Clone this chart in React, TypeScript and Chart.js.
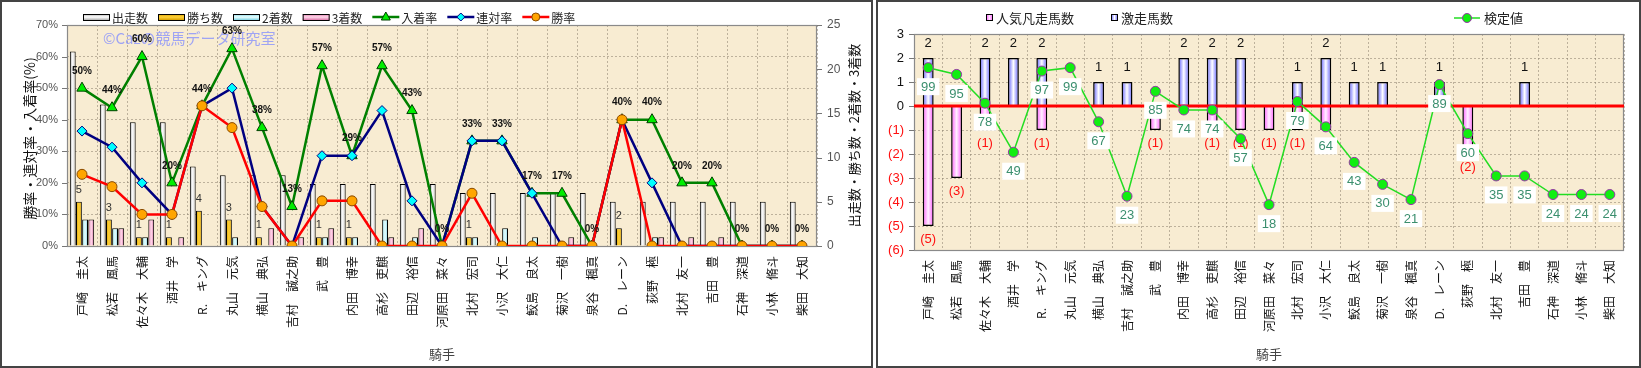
import React, { useEffect, useRef } from 'react';
import { Chart, registerables } from 'chart.js';
Chart.register(...registerables);

// ---------------- data ----------------
const jockeys = [
  '戸崎　圭太', '松若　風馬', '佐々木　大輔', '酒井　学', 'R.　キング', '丸山　元気', '横山　典弘',
  '吉村　誠之助', '武　豊', '内田　博幸', '高杉　吏麒', '田辺　裕信', '河原田　菜々', '北村　宏司',
  '小沢　大仁', '鮫島　良太', '菊沢　一樹', '泉谷　楓真', 'D.　レーン', '荻野　極', '北村　友一',
  '吉田　豊', '石神　深道', '小林　脩斗', '柴田　大知',
];
const starts = [22, 16, 14, 14, 9, 8, 8, 8, 7, 7, 7, 7, 7, 6, 6, 6, 6, 6, 5, 5, 5, 5, 5, 5, 5];
const wins = [5, 3, 1, 1, 4, 3, 1, 0, 1, 1, 0, 0, 0, 1, 0, 0, 0, 0, 2, 0, 0, 0, 0, 0, 0];
const seconds = [3, 2, 1, 0, 0, 1, 0, 0, 1, 1, 3, 1, 0, 1, 2, 1, 0, 0, 0, 1, 0, 0, 0, 0, 0];
const thirds = [3, 2, 3, 1, 0, 0, 2, 1, 2, 0, 1, 2, 0, 0, 0, 0, 1, 0, 0, 1, 1, 1, 0, 0, 0];
const placeRate = [50, 43.8, 60, 20, 44.4, 62.5, 37.5, 12.5, 57.1, 28.6, 57.1, 42.9, 0, 33.3, 33.3, 16.7, 16.7, 0, 40, 40, 20, 20, 0, 0, 0];
const quinellaRate = [36.4, 31.3, 20, 10, 44.4, 50, 12.5, 0, 28.6, 28.6, 42.9, 14.3, 0, 33.3, 33.3, 16.7, 0, 0, 40, 20, 0, 0, 0, 0, 0];
const winRate = [22.7, 18.8, 10, 10, 44.4, 37.5, 12.5, 0, 14.3, 14.3, 0, 0, 0, 16.7, 0, 0, 0, 0, 40, 0, 0, 0, 0, 0, 0];

const surgeCount = [2, 0, 2, 2, 2, 0, 1, 1, 0, 2, 2, 2, 0, 1, 2, 1, 1, 0, 1, 0, 0, 1, 0, 0, 0];
const flopCount = [-5, -3, -1, 0, -1, 0, 0, 0, -1, 0, -1, -1, -1, -1, -1, 0, 0, 0, 0, -2, 0, 0, 0, 0, 0];
const testValue = [99, 95, 78, 49, 97, 99, 67, 23, 85, 74, 74, 57, 18, 79, 64, 43, 30, 21, 89, 60, 35, 35, 24, 24, 24];

const leftTitle = '勝率・連対率・入着率(%)';
const rightAxisTitle = '出走数・勝ち数・2着数・3着数';
const xTitle = '騎手';
const watermark = '©Cazの競馬データ研究室';

// ---------------- styles ----------------
const JP = '"Noto Sans CJK JP", sans-serif';
const LAT = '"Liberation Sans", "Noto Sans CJK JP", sans-serif';
const PAPER = '#f8ecd2';
const GRID = 'rgba(140,130,110,0.55)';

const L_CAT = 0.82;
const L_BAR = 0.95;
const R_CAT = 0.8;
const R_BAR = 0.48;

function barGrad(ctx: any, j: number, nBars: number, catPct: number, barPct: number, edge: string, center: string) {
  const chart = ctx.chart;
  const xs = chart.scales && chart.scales.x;
  if (!xs || ctx.type !== 'data' || !xs.width) return edge;
  const n = chart.data.labels.length;
  const cw = xs.width / n;
  const group = cw * catPct;
  const slot = group / nBars;
  const w = slot * barPct;
  const cx = xs.getPixelForValue(ctx.dataIndex) - group / 2 + (j + 0.5) * slot;
  const g = chart.ctx.createLinearGradient(cx - w / 2, 0, cx + w / 2, 0);
  g.addColorStop(0, edge);
  g.addColorStop(0.5, center);
  g.addColorStop(1, edge);
  return g;
}

function drawMarker(c: CanvasRenderingContext2D, kind: string, x: number, y: number, r: number, fill: string, stroke: string) {
  c.save();
  c.beginPath();
  if (kind === 'triangle') {
    c.moveTo(x, y - r);
    c.lineTo(x + r * 0.9, y + r * 0.6);
    c.lineTo(x - r * 0.9, y + r * 0.6);
    c.closePath();
  } else if (kind === 'diamond') {
    c.moveTo(x, y - r);
    c.lineTo(x + r, y);
    c.lineTo(x, y + r);
    c.lineTo(x - r, y);
    c.closePath();
  } else {
    c.arc(x, y, r, 0, Math.PI * 2);
  }
  c.fillStyle = fill;
  c.fill();
  c.lineWidth = 1;
  c.strokeStyle = stroke;
  c.stroke();
  c.restore();
}

function fillPaper(chart: any) {
  const { ctx, chartArea: a } = chart;
  ctx.save();
  ctx.fillStyle = '#ffffff';
  ctx.fillRect(0, 0, chart.width, chart.height);
  ctx.fillStyle = PAPER;
  ctx.fillRect(a.left, a.top, a.right - a.left, a.bottom - a.top);
  ctx.restore();
}

function plotBorder(chart: any) {
  const { ctx, chartArea: a } = chart;
  ctx.save();
  ctx.strokeStyle = '#8a8a8a';
  ctx.lineWidth = 1.2;
  ctx.strokeRect(a.left + 0.5, a.top + 0.5, a.right - a.left - 1, a.bottom - a.top);
  ctx.restore();
}

function tickMarks(chart: any, id: string, side: 'left' | 'right') {
  const s = chart.scales[id];
  if (!s) return;
  const { ctx, chartArea: a } = chart;
  ctx.save();
  ctx.strokeStyle = '#777';
  ctx.lineWidth = 1;
  s.ticks.forEach((t: any) => {
    const y = Math.round(s.getPixelForValue(t.value)) + 0.5;
    ctx.beginPath();
    if (side === 'left') {
      ctx.moveTo(a.left - 5, y);
      ctx.lineTo(a.left, y);
    } else {
      ctx.moveTo(a.right, y);
      ctx.lineTo(a.right + 5, y);
    }
    ctx.stroke();
  });
  ctx.restore();
}

function rotatedText(c: CanvasRenderingContext2D, text: string, x: number, y: number, font: string, color: string) {
  c.save();
  c.translate(x, y);
  c.rotate(-Math.PI / 2);
  c.font = font;
  c.fillStyle = color;
  c.textAlign = 'center';
  c.textBaseline = 'middle';
  c.fillText(text, 0, 0);
  c.restore();
}

// ---------------- left chart plugin ----------------
const leftPlugin = {
  id: 'leftDecor',
  beforeDraw(chart: any) {
    fillPaper(chart);
  },
  beforeDatasetsDraw(chart: any) {
    const { ctx, chartArea: a } = chart;
    ctx.save();
    ctx.font = `15px ${JP}`;
    ctx.fillStyle = 'rgba(130,140,255,0.75)';
    ctx.textAlign = 'left';
    ctx.textBaseline = 'middle';
    ctx.fillText(watermark, a.left + 36, a.top + 13);
    ctx.restore();
    plotBorder(chart);
    tickMarks(chart, 'y', 'left');
    tickMarks(chart, 'y1', 'right');
  },
  afterDatasetsDraw(chart: any) {
    const { ctx } = chart;
    ctx.save();
    // win counts above yellow bars
    const wMeta = chart.getDatasetMeta(4);
    ctx.font = `11px ${LAT}`;
    ctx.fillStyle = '#333';
    ctx.textAlign = 'center';
    ctx.textBaseline = 'middle';
    wMeta.data.forEach((b: any, i: number) => {
      if (wins[i] > 0) ctx.fillText(String(wins[i]), b.x, b.y - 12);
    });
    // place rate labels
    const pMeta = chart.getDatasetMeta(2);
    ctx.font = `bold 10px ${LAT}`;
    ctx.fillStyle = '#111';
    pMeta.data.forEach((p: any, i: number) => {
      ctx.fillText(`${Math.round(placeRate[i])}%`, p.x, p.y - 17);
    });
    ctx.restore();
  },
  afterDraw(chart: any) {
    const { ctx, chartArea: a } = chart;
    // legend
    const items = [
      { t: 'box', label: '出走数', edge: '#b0b0b0', center: '#ffffff' },
      { t: 'box', label: '勝ち数', edge: '#d9a000', center: '#ffd23a' },
      { t: 'box', label: '2着数', edge: '#80d4e4', center: '#eaffff' },
      { t: 'box', label: '3着数', edge: '#de78ac', center: '#ffd8ea' },
      { t: 'line', label: '入着率', color: '#008000', marker: 'triangle', fill: '#00ee00', stroke: '#004000' },
      { t: 'line', label: '連対率', color: '#000080', marker: 'diamond', fill: '#00ffff', stroke: '#000080' },
      { t: 'line', label: '勝率', color: '#ff0000', marker: 'circle', fill: '#ffa500', stroke: '#8a4a00' },
    ];
    let x = a.left + 16;
    const y = 17;
    ctx.save();
    ctx.font = `12px ${JP}`;
    ctx.textBaseline = 'middle';
    ctx.textAlign = 'left';
    items.forEach((it: any) => {
      if (it.t === 'box') {
        const g = ctx.createLinearGradient(0, y - 3, 0, y + 3);
        g.addColorStop(0, it.edge);
        g.addColorStop(0.5, it.center);
        g.addColorStop(1, it.edge);
        ctx.fillStyle = g;
        ctx.fillRect(x, y - 3, 27, 6);
        ctx.strokeStyle = '#000';
        ctx.lineWidth = 1;
        ctx.strokeRect(x + 0.5, y - 3 + 0.5, 26, 6);
      } else {
        ctx.strokeStyle = it.color;
        ctx.lineWidth = 2.5;
        ctx.beginPath();
        ctx.moveTo(x, y);
        ctx.lineTo(x + 27, y);
        ctx.stroke();
        drawMarker(ctx, it.marker, x + 13.5, y, it.marker === 'triangle' ? 5 : 4, it.fill, it.stroke);
      }
      ctx.fillStyle = '#222';
      ctx.font = `12px ${JP}`;
      ctx.fillText(it.label, x + 29, y + 1);
      const w = ctx.measureText(it.label).width;
      x = x + 29 + w + 10;
    });
    ctx.restore();
    // titles
    rotatedText(ctx, leftTitle, 30, (a.top + a.bottom) / 2 + 3, `14px ${JP}`, '#111');
    rotatedText(ctx, rightAxisTitle, a.right + 37, (a.top + a.bottom) / 2, `13px ${JP}`, '#111');
    ctx.save();
    ctx.font = `13px ${JP}`;
    ctx.fillStyle = '#444';
    ctx.textAlign = 'center';
    ctx.textBaseline = 'middle';
    ctx.fillText(xTitle, (a.left + a.right) / 2, 354);
    ctx.restore();
  },
};

// ---------------- right chart plugin ----------------
const rightPlugin = {
  id: 'rightDecor',
  beforeDraw(chart: any) {
    fillPaper(chart);
  },
  beforeDatasetsDraw(chart: any) {
    plotBorder(chart);
    tickMarks(chart, 'y', 'left');
  },
  beforeDatasetDraw(chart: any, args: any) {
    if (args.index !== 0) return;
    const { ctx, chartArea: a } = chart;
    const ys = chart.scales.y;
    const y0 = ys.getPixelForValue(0);
    ctx.save();
    ctx.strokeStyle = '#ff0000';
    ctx.lineWidth = 3;
    ctx.beginPath();
    ctx.moveTo(a.left, y0);
    ctx.lineTo(a.right, y0);
    ctx.stroke();
    // bar labels
    ctx.textAlign = 'center';
    ctx.textBaseline = 'middle';
    ctx.font = `13px ${LAT}`;
    ctx.fillStyle = '#111';
    chart.getDatasetMeta(1).data.forEach((b: any, i: number) => {
      if (surgeCount[i] > 0) ctx.fillText(String(surgeCount[i]), b.x, b.y - 15);
    });
    ctx.fillStyle = '#ff1010';
    chart.getDatasetMeta(2).data.forEach((b: any, i: number) => {
      if (flopCount[i] < 0) ctx.fillText(`(${-flopCount[i]})`, b.x, b.y + 13);
    });
    ctx.restore();
  },
  afterDatasetsDraw(chart: any) {
    const { ctx } = chart;
    ctx.save();
    ctx.font = `13px ${LAT}`;
    ctx.textAlign = 'center';
    ctx.textBaseline = 'middle';
    chart.getDatasetMeta(0).data.forEach((p: any, i: number) => {
      const t = String(testValue[i]);
      const w = ctx.measureText(t).width + 8;
      const cy = p.y + 19;
      ctx.fillStyle = '#ffffff';
      ctx.fillRect(p.x - w / 2, cy - 8.5, w, 17);
      ctx.fillStyle = '#3b8f6e';
      ctx.fillText(t, p.x, cy + 0.5);
    });
    ctx.restore();
  },
  afterDraw(chart: any) {
    const { ctx, chartArea: a } = chart;
    ctx.save();
    ctx.font = `13px ${JP}`;
    ctx.textBaseline = 'middle';
    ctx.textAlign = 'left';
    const y = 18;
    const boxes = [
      { x: 110, label: '人気凡走馬数', edge: '#ff55ff', center: '#ffe0ff' },
      { x: 235, label: '激走馬数', edge: '#5a5aff', center: '#ffffff' },
    ];
    boxes.forEach((b) => {
      const g = ctx.createLinearGradient(b.x, 0, b.x + 7, 0);
      g.addColorStop(0, b.edge);
      g.addColorStop(0.5, b.center);
      g.addColorStop(1, b.edge);
      ctx.fillStyle = g;
      ctx.fillRect(b.x, y - 4, 7, 7);
      ctx.strokeStyle = '#000';
      ctx.lineWidth = 1;
      ctx.strokeRect(b.x + 0.5, y - 3.5, 6, 6);
      ctx.fillStyle = '#222';
      ctx.fillText(b.label, b.x + 10, y);
    });
    const lx = 578;
    ctx.strokeStyle = '#22dd22';
    ctx.lineWidth = 1.5;
    ctx.beginPath();
    ctx.moveTo(lx, y);
    ctx.lineTo(lx + 26, y);
    ctx.stroke();
    drawMarker(ctx, 'circle', lx + 13, y, 4.5, '#11ee11', '#9933aa');
    ctx.fillStyle = '#222';
    ctx.fillText('検定値', lx + 30, y);
    ctx.font = `13px ${JP}`;
    ctx.fillStyle = '#444';
    ctx.textAlign = 'center';
    ctx.fillText(xTitle, (a.left + a.right) / 2, 354);
    ctx.restore();
  },
};

const xTickCfg = {
  minRotation: 90,
  maxRotation: 90,
  autoSkip: false,
  padding: 10,
  color: '#111',
  font: { size: 12, family: JP },
};

function LeftChart() {
  const ref = useRef<HTMLCanvasElement | null>(null);
  useEffect(() => {
    if (!ref.current) return;
    const barDs = (label: string, data: number[], j: number, edge: string, center: string) => ({
      type: 'bar' as const,
      label,
      data,
      yAxisID: 'y1',
      order: 3,
      categoryPercentage: L_CAT,
      barPercentage: L_BAR,
      borderColor: '#000',
      borderWidth: 1,
      backgroundColor: (c: any) => barGrad(c, j, 4, L_CAT, L_BAR, edge, center),
    });
    const chart = new Chart(ref.current, {
      type: 'bar',
      data: {
        labels: jockeys,
        datasets: [
          {
            type: 'line', label: '勝率', data: winRate, yAxisID: 'y', order: 0,
            borderColor: '#ff0000', borderWidth: 2.5, pointStyle: 'circle', pointRadius: 5,
            pointBackgroundColor: '#ffa500', pointBorderColor: '#8a4a00', pointBorderWidth: 1, tension: 0,
          },
          {
            type: 'line', label: '連対率', data: quinellaRate, yAxisID: 'y', order: 1,
            borderColor: '#000080', borderWidth: 2.5, pointStyle: 'rectRot', pointRadius: 5,
            pointBackgroundColor: '#00ffff', pointBorderColor: '#000080', pointBorderWidth: 1, tension: 0,
          },
          {
            type: 'line', label: '入着率', data: placeRate, yAxisID: 'y', order: 2,
            borderColor: '#008000', borderWidth: 2.5, pointStyle: 'triangle', pointRadius: 6,
            pointBackgroundColor: '#00ee00', pointBorderColor: '#004000', pointBorderWidth: 1, tension: 0,
          },
          barDs('出走数', starts, 0, '#b0b0b0', '#ffffff'),
          barDs('勝ち数', wins, 1, '#d9a000', '#ffd23a'),
          barDs('2着数', seconds, 2, '#80d4e4', '#eaffff'),
          barDs('3着数', thirds, 3, '#de78ac', '#ffd8ea'),
        ] as any,
      },
      options: {
        responsive: false,
        animation: false,
        devicePixelRatio: 1,
        events: [],
        layout: { padding: { top: 25, left: 0, right: 0, bottom: 0 } },
        plugins: { legend: { display: false }, tooltip: { enabled: false } },
        scales: {
          x: {
            offset: true,
            grid: { offset: true, color: GRID, drawTicks: false },
            border: { display: false, dash: [2, 2] },
            ticks: xTickCfg,
            afterFit: (s: any) => { s.height = 122; },
          },
          y: {
            position: 'left',
            min: 0, max: 70,
            ticks: { stepSize: 10, padding: 9, color: '#555', font: { size: 11, family: LAT }, callback: (v: any) => `${v}%` },
            grid: { color: GRID, drawTicks: false },
            border: { display: false, dash: [2, 2] },
            afterFit: (s: any) => { s.width = 67; },
          },
          y1: {
            position: 'right',
            min: 0, max: 25,
            ticks: { stepSize: 5, padding: 10, color: '#555', font: { size: 12, family: LAT } },
            grid: { drawOnChartArea: false, drawTicks: false },
            border: { display: false },
            afterFit: (s: any) => { s.width = 56; },
          },
        },
      } as any,
      plugins: [leftPlugin],
    });
    return () => chart.destroy();
  }, []);
  return <canvas ref={ref} width={873} height={368} style={{ position: 'absolute', left: 0, top: 0 }} />;
}

function RightChart() {
  const ref = useRef<HTMLCanvasElement | null>(null);
  useEffect(() => {
    if (!ref.current) return;
    const chart = new Chart(ref.current, {
      type: 'bar',
      data: {
        labels: jockeys,
        datasets: [
          {
            type: 'line', label: '検定値', data: testValue, yAxisID: 'y2', order: 0,
            borderColor: '#22dd22', borderWidth: 1.5, pointRadius: 5, pointStyle: 'circle',
            pointBackgroundColor: '#11ee11', pointBorderColor: '#9933aa', pointBorderWidth: 1, tension: 0,
          },
          {
            type: 'bar', label: '激走馬数', data: surgeCount, yAxisID: 'y', order: 1, stack: 's',
            categoryPercentage: R_CAT, barPercentage: R_BAR, borderColor: '#000', borderWidth: 1.5,
            backgroundColor: (c: any) => barGrad(c, 0, 1, R_CAT, R_BAR, '#5a5aff', '#ffffff'),
          },
          {
            type: 'bar', label: '人気凡走馬数', data: flopCount, yAxisID: 'y', order: 1, stack: 's',
            categoryPercentage: R_CAT, barPercentage: R_BAR, borderColor: '#000', borderWidth: 1.5,
            backgroundColor: (c: any) => barGrad(c, 0, 1, R_CAT, R_BAR, '#ff55ff', '#fff0ff'),
          },
        ] as any,
      },
      options: {
        responsive: false,
        animation: false,
        devicePixelRatio: 1,
        events: [],
        layout: { padding: { top: 34, left: 0, right: 17, bottom: 0 } },
        plugins: { legend: { display: false }, tooltip: { enabled: false } },
        scales: {
          x: {
            stacked: true,
            offset: true,
            grid: { offset: true, color: GRID, drawTicks: false },
            border: { display: false, dash: [2, 2] },
            ticks: xTickCfg,
            afterFit: (s: any) => { s.height = 118; },
          },
          y: {
            stacked: true,
            position: 'left',
            min: -6, max: 3,
            ticks: {
              stepSize: 1, padding: 10,
              font: { size: 13, family: LAT },
              color: (c: any) => (c.tick && c.tick.value < 0 ? '#ff1010' : '#111'),
              callback: (v: any) => (v < 0 ? `(${-v})` : `${v}`),
            },
            grid: { color: GRID, drawTicks: false },
            border: { display: false, dash: [2, 2] },
            afterFit: (s: any) => { s.width = 38; },
          },
          y2: {
            display: false,
            min: -8.8, max: 118.9,
          },
        },
      } as any,
      plugins: [rightPlugin],
    });
    return () => chart.destroy();
  }, []);
  return <canvas ref={ref} width={765} height={368} style={{ position: 'absolute', left: 876, top: 0 }} />;
}

export default function App() {
  return (
    <div style={{ position: 'absolute', left: 0, top: 0, width: 1641, height: 368, background: '#fff', overflow: 'hidden' }}>
      <LeftChart />
      <RightChart />
      <div style={{ position: 'absolute', left: 0, top: 0, width: 873, height: 368, border: '2px solid #444', boxSizing: 'border-box', pointerEvents: 'none' }} />
      <div style={{ position: 'absolute', left: 876, top: 0, width: 765, height: 368, border: '2px solid #444', boxSizing: 'border-box', pointerEvents: 'none' }} />
    </div>
  );
}
